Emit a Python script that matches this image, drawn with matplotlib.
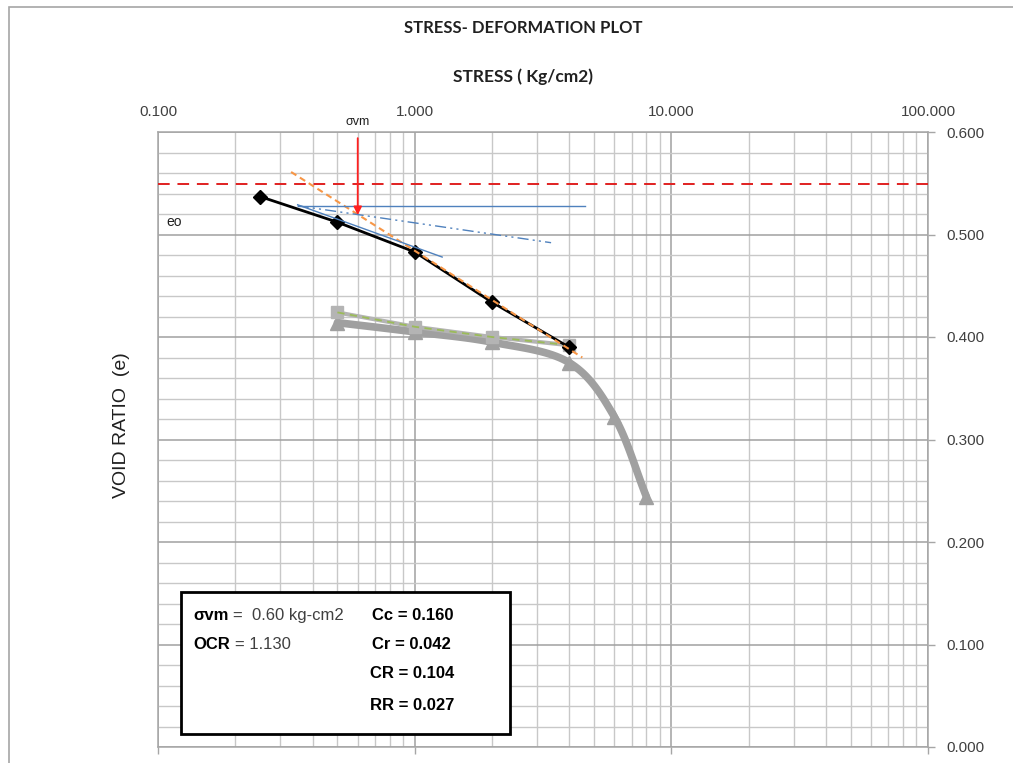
import matplotlib
matplotlib.use("Agg")
import matplotlib.pyplot as plt
import numpy as np
from matplotlib.patches import Rectangle
from matplotlib.ticker import FixedLocator, NullFormatter, LogLocator

# loading curve (black diamonds)
load_stress = [0.25, 0.5, 1.0, 2.0, 4.0]
load_e = [0.537, 0.512, 0.483, 0.434, 0.390]

# rebound curve (light grey squares)
rebound_stress = [0.5, 1.0, 2.0, 4.0]
rebound_e = [0.424, 0.410, 0.400, 0.392]

# reload curve (grey triangles)
reload_stress = [0.5, 1.0, 2.0, 4.0, 6.0, 8.0]
reload_e = [0.414, 0.405, 0.395, 0.375, 0.322, 0.244]

# construction lines (Casagrande)
virgin_x = [0.33, 4.5]
virgin_e = [0.561, 0.380]
horiz_x = [0.35, 4.6]
horiz_e = [0.528, 0.528]
bisector_x = [0.35, 3.4]
bisector_e = [0.528, 0.492]
tangent_x = [0.35, 1.28]
tangent_e = [0.529, 0.478]
e_ref = 0.549
sigma_vm = 0.6
arrow_e = [0.594, 0.519]

x_ticks = [0.1, 1.0, 10.0, 100.0]
x_tick_labels = ["0.100", "1.000", "10.000", "100.000"]
y_ticks = [0.0, 0.1, 0.2, 0.3, 0.4, 0.5, 0.6]
y_tick_labels = ["0.000", "0.100", "0.200", "0.300", "0.400", "0.500", "0.600"]


def smooth(xs, ys, n=20):
    # catmull-rom through the points in log-x space, like an Excel smoothed line
    lx = np.log10(xs)
    pts = np.column_stack([lx, ys])
    p = np.vstack([2 * pts[0] - pts[1], pts, 2 * pts[-1] - pts[-2]])
    out = []
    for i in range(1, len(p) - 2):
        p0, p1, p2, p3 = p[i - 1], p[i], p[i + 1], p[i + 2]
        for t in np.linspace(0, 1, n, endpoint=False):
            out.append(0.5 * ((2 * p1) + (-p0 + p2) * t
                              + (2 * p0 - 5 * p1 + 4 * p2 - p3) * t ** 2
                              + (-p0 + 3 * p1 - 3 * p2 + p3) * t ** 3))
    out.append(pts[-1])
    out = np.array(out)
    return 10 ** out[:, 0], out[:, 1]


fig = plt.figure(figsize=(10.13, 7.63), dpi=100)
fig.patches.append(Rectangle((9 / 1013, -0.1), 1.2, (756 + 76) / 763, transform=fig.transFigure,
                             fill=False, edgecolor="#a6a6a6", linewidth=1.2))
ax = fig.add_axes([158 / 1013, 16 / 763, 770 / 1013, 615 / 763])
ax.set_xscale("log")
ax.set_xlim(0.1, 100)
ax.set_ylim(0.0, 0.6)

ax.xaxis.set_major_locator(FixedLocator(x_ticks))
ax.xaxis.set_minor_locator(LogLocator(base=10, subs=np.arange(2, 10)))
ax.xaxis.set_minor_formatter(NullFormatter())
ax.set_xticklabels(x_tick_labels)
ax.set_yticks(y_ticks)
ax.set_yticklabels(y_tick_labels)
ax.set_yticks(np.arange(0, 0.601, 0.02), minor=True)

ax.tick_params(axis="x", which="major", bottom=True, top=False, labelbottom=False,
               labeltop=True, length=5, width=1, color="#a6a6a6", direction="out",
               pad=4.5, labelsize=11, labelcolor="#404040")
ax.tick_params(axis="x", which="minor", length=0)
ax.yaxis.tick_right()
ax.tick_params(axis="y", which="major", length=5, width=1, color="#a6a6a6", pad=8,
               labelsize=11, labelcolor="#404040", direction="out")
ax.tick_params(axis="y", which="minor", length=0)
for lbl in ax.get_xticklabels() + ax.get_yticklabels():
    lbl.set_family("Liberation Sans")

ax.grid(True, which="major", color="#a0a0a0", linewidth=1.1)
ax.grid(True, which="minor", color="#c8c8c8", linewidth=1.0)
ax.set_axisbelow(True)
for side in ["top", "right", "bottom", "left"]:
    ax.spines[side].set_color("#a6a6a6")
    ax.spines[side].set_linewidth(1.1)

# data series
sx, sy = smooth(reload_stress, reload_e)
ax.plot(sx, sy, color="#a0a0a0", linewidth=5.5, solid_capstyle="round", zorder=3)
ax.plot(reload_stress, reload_e, linestyle="none", marker="^", markersize=10,
        color="#a0a0a0", zorder=3)
ax.plot(rebound_stress, rebound_e, color="#b4b4b4", linewidth=3, marker="s",
        markersize=9, zorder=3)
ax.plot(rebound_stress, rebound_e, color="#9bbb59", linewidth=1.3, linestyle=(0, (4, 3)), zorder=4)
ax.plot(load_stress, load_e, color="black", linewidth=2, marker="D", markersize=7, zorder=5)

ax.plot(virgin_x, virgin_e, color="#f79646", linewidth=1.5, linestyle=(0, (3, 2)), zorder=6)
ax.plot(horiz_x, horiz_e, color="#4f81bd", linewidth=1.0, zorder=6)
ax.plot(bisector_x, bisector_e, color="#4f81bd", linewidth=1.0,
        linestyle=(0, (8, 3, 1.5, 3, 1.5, 3)), zorder=6)
ax.plot(tangent_x, tangent_e, color="#4f81bd", linewidth=1.0, zorder=6)
ax.axhline(e_ref, color="#e02020", linewidth=1.4, linestyle=(0, (6, 4)), zorder=6)

ax.annotate("", xy=(sigma_vm, arrow_e[1]), xytext=(sigma_vm, arrow_e[0]),
            arrowprops=dict(arrowstyle="-|>", color="#ff2020", lw=1.3,
                            mutation_scale=12, shrinkA=0, shrinkB=0,
                            facecolor="#c0504d"), zorder=7, annotation_clip=False)
ax.text(sigma_vm, 0.604, "σvm", ha="center", va="bottom", fontsize=9,
        family="Liberation Sans", color="#202020")
ax.text(0.108, 0.512, "eo", ha="left", va="center", fontsize=10,
        family="Liberation Sans", color="#202020")

# summary box
ax.add_patch(Rectangle((0.030, 0.021), 0.427, 0.231, transform=ax.transAxes,
                       facecolor="white", edgecolor="black", linewidth=2, zorder=8))
box_font = dict(fontsize=12, family="Liberation Sans", zorder=9, va="center",
                transform=ax.transAxes)
ax.text(0.0455, 0.214, "σvm", fontweight="bold", **box_font)
ax.text(0.097, 0.214, "=  0.60 kg-cm2", color="#404040", **box_font)
ax.text(0.0455, 0.167, "OCR", fontweight="bold", **box_font)
ax.text(0.100, 0.167, "= 1.130", color="#404040", **box_font)
ax.text(0.278, 0.214, "Cc = 0.160", fontweight="bold", **box_font)
ax.text(0.278, 0.167, "Cr = 0.042", fontweight="bold", **box_font)
ax.text(0.275, 0.120, "CR = 0.104", fontweight="bold", **box_font)
ax.text(0.275, 0.067, "RR = 0.027", fontweight="bold", **box_font)

fig.text(523 / 1013, 1 - 28 / 763, "STRESS- DEFORMATION PLOT", ha="center", va="center",
         fontsize=12, fontweight="bold", family="Lato", color="#202020")
fig.text(523 / 1013, 1 - 77 / 763, "STRESS ( Kg/cm2)", ha="center", va="center",
         fontsize=12.5, fontweight="bold", family="Lato", color="#202020")
fig.text(122 / 1013, 1 - 425 / 763, "VOID RATIO  (e)", ha="center", va="center",
         rotation=90, fontsize=14, family="Liberation Sans", color="#202020")

fig.savefig("out.png", dpi=100)
